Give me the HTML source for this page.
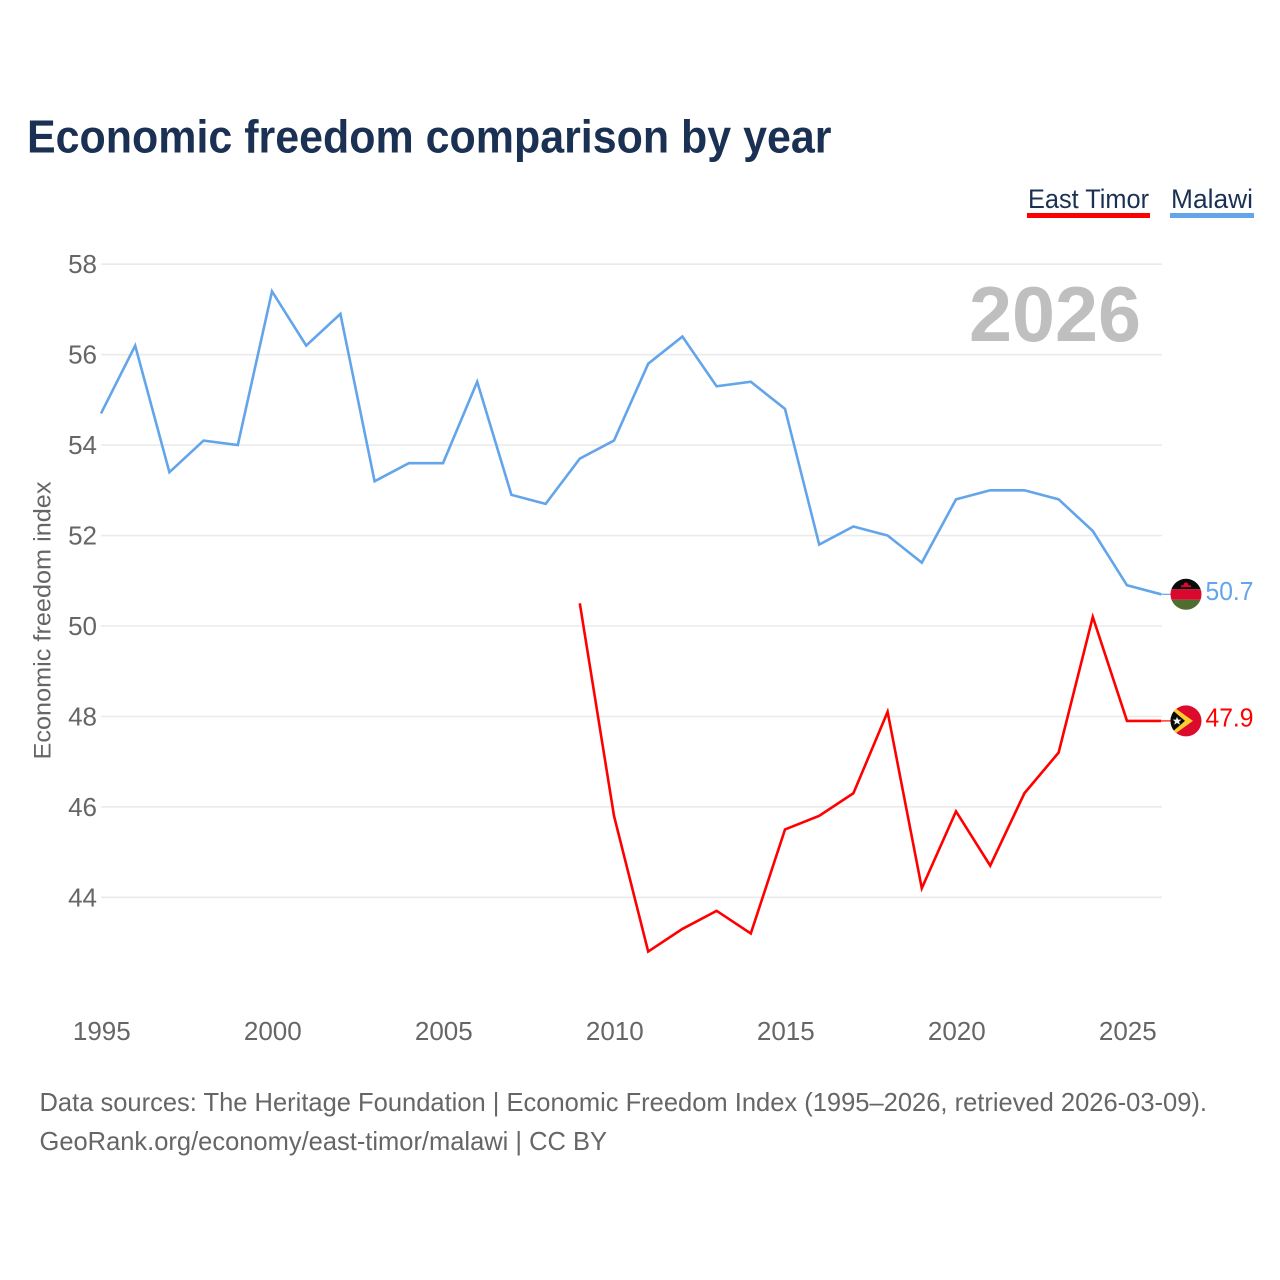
<!DOCTYPE html>
<html lang="en">
<head>
<meta charset="utf-8">
<title>Economic freedom comparison by year</title>
<style>
  html, body { margin: 0; padding: 0; background: #fff; }
  svg { display: block; font-family: "Liberation Sans", sans-serif; }
</style>
</head>
<body>
<svg id="chart" xmlns="http://www.w3.org/2000/svg" width="1280" height="1280" viewBox="0 0 1280 1280">
  <rect width="1280" height="1280" fill="#ffffff"/>
  <text x="27" y="152.5" font-size="46" font-weight="700" fill="#1b3153" textLength="804.5" lengthAdjust="spacingAndGlyphs">Economic freedom comparison by year</text>

  <g id="grid"></g>
  <g id="yticks"></g>
  <g id="xticks"></g>

  <text x="969" y="341" font-size="78" font-weight="700" fill="#bfbfbf" textLength="172" lengthAdjust="spacingAndGlyphs">2026</text>

  <text transform="translate(50.5,759.5) rotate(-90)" font-size="24" fill="#666666" textLength="278" lengthAdjust="spacingAndGlyphs">Economic freedom index</text>

  <g id="series"></g>

  <g>
    <text x="1028" y="208" font-size="27" fill="#1b3153" textLength="121" lengthAdjust="spacingAndGlyphs">East Timor</text>
    <rect x="1027" y="213" width="123" height="5" fill="#ff0000"/>
  </g>
  <g>
    <text x="1171" y="208" font-size="27" fill="#1b3153" textLength="82" lengthAdjust="spacingAndGlyphs">Malawi</text>
    <rect x="1170" y="213" width="84" height="5" fill="#62a5ea"/>
  </g>

  <defs>
    <clipPath id="flag-clip"><circle cx="0" cy="0" r="15.5"/></clipPath>
  </defs>

  <g id="flag-malawi">
    <g clip-path="url(#flag-clip)">
      <rect x="-16" y="-16" width="32" height="11" fill="#0a0a0a"/>
      <rect x="-16" y="-5" width="32" height="10.5" fill="#d9082d"/>
      <rect x="-16" y="5.5" width="32" height="11" fill="#4f6d2e"/>
      <path d="M-5 -7 L5 -7 L5 -9 L2.5 -9 L2 -11 L0 -12 L-2 -11 L-2.5 -9 L-5 -9 Z" fill="#d9082d"/>
    </g>
  </g>
  <g id="flag-east-timor">
    <g clip-path="url(#flag-clip)">
      <rect x="-16" y="-16" width="32" height="32" fill="#dc0a2d"/>
      <path d="M-16 -16.5 L7 0 L-16 16.5 Z" fill="#fbcd2e"/>
      <path d="M-16 -13 L-1 0 L-16 13 Z" fill="#0a0a0a"/>
      <path d="M-9 -4 L-7.8 -1.3 L-4.5 -1.3 L-7 0.7 L-6 3.8 L-9 2 L-11.8 3.8 L-10.9 0.7 L-13.4 -1.3 L-10.1 -1.3 Z" fill="#f2f2f2"/>
    </g>
  </g>

  <text x="39.5" y="1111" font-size="26" fill="#666666" textLength="1167.5" lengthAdjust="spacingAndGlyphs">Data sources: The Heritage Foundation | Economic Freedom Index (1995–2026, retrieved 2026-03-09).</text>
  <text x="39.5" y="1150" font-size="26" fill="#666666" textLength="567.5" lengthAdjust="spacingAndGlyphs">GeoRank.org/economy/east-timor/malawi | CC BY</text>
</svg>

<script>
const malawiYears = [1995,1996,1997,1998,1999,2000,2001,2002,2003,2004,2005,2006,2007,2008,2009,2010,2011,2012,2013,2014,2015,2016,2017,2018,2019,2020,2021,2022,2023,2024,2025,2026];
const malawiValues = [54.7,56.2,53.4,54.1,54.0,57.4,56.2,56.9,53.2,53.6,53.6,55.4,52.9,52.7,53.7,54.1,55.8,56.4,55.3,55.4,54.8,51.8,52.2,52.0,51.4,52.8,53.0,53.0,52.8,52.1,50.9,50.7];
const timorYears = [2009,2010,2011,2012,2013,2014,2015,2016,2017,2018,2019,2020,2021,2022,2023,2024,2025,2026];
const timorValues = [50.5,45.8,42.8,43.3,43.7,43.2,45.5,45.8,46.3,48.1,44.2,45.9,44.7,46.3,47.2,50.2,47.9,47.9];
const yTickValues = [44,46,48,50,52,54,56,58];
const xTickValues = [1995,2000,2005,2010,2015,2020,2025];

const NS = 'http://www.w3.org/2000/svg';
function xScale(year) { return 101 + (year - 1995) * 34.2; }
function yScale(v) { return 264.2 + (58 - v) * 45.22; }
function make(tag, attrs, parent) {
  const el = document.createElementNS(NS, tag);
  for (const k in attrs) el.setAttribute(k, attrs[k]);
  parent.appendChild(el);
  return el;
}

const grid = document.getElementById('grid');
const yticks = document.getElementById('yticks');
const xticks = document.getElementById('xticks');
const series = document.getElementById('series');
const chart = document.getElementById('chart');

yTickValues.forEach(function (t) {
  const line = make('line', { x1: 101, x2: 1162, y1: yScale(t), y2: yScale(t), stroke: '#ebebeb', 'stroke-width': 1.6 }, grid);
  
  
  const label = make('text', { x: 97, y: yScale(t) + 9, 'text-anchor': 'end', 'font-size': 26, fill: '#666666' }, yticks);
  
  
  label.textContent = t;
});

xTickValues.forEach(function (t) {
  const label = make('text', { x: xScale(t) + 0.8, y: 1040, 'text-anchor': 'middle', 'font-size': 26, fill: '#666666' }, xticks);
  
  
  label.textContent = t;
});

function drawSeries(years, values, color, key) {
  const pts = years.map(function (y, i) { return xScale(y).toFixed(2) + ',' + yScale(values[i]).toFixed(2); }).join(' ');
  const line = make('polyline', { points: pts, fill: 'none', stroke: color, 'stroke-width': 2.6, 'stroke-linejoin': 'miter', 'stroke-miterlimit': 10 }, series);
  
  

  const last = values[values.length - 1];
  const lastY = yScale(last);
  const lastX = xScale(years[years.length - 1]);
  const connector = make('line', { x1: lastX, x2: 1172, y1: lastY, y2: lastY, stroke: color, 'stroke-width': 1.2 }, series);
  
  

  document.getElementById('flag-' + key).setAttribute('transform', 'translate(1186,' + lastY.toFixed(2) + ')');

  const label = make('text', { x: 1205.5, y: lastY + 5.5, 'font-size': 26, fill: color, textLength: 48, lengthAdjust: 'spacingAndGlyphs' }, chart);
  
  
  label.textContent = last.toFixed(1);
}

drawSeries(malawiYears, malawiValues, '#62a5ea', 'malawi');
drawSeries(timorYears, timorValues, '#ff0000', 'east-timor');
</script>
</body>
</html>
